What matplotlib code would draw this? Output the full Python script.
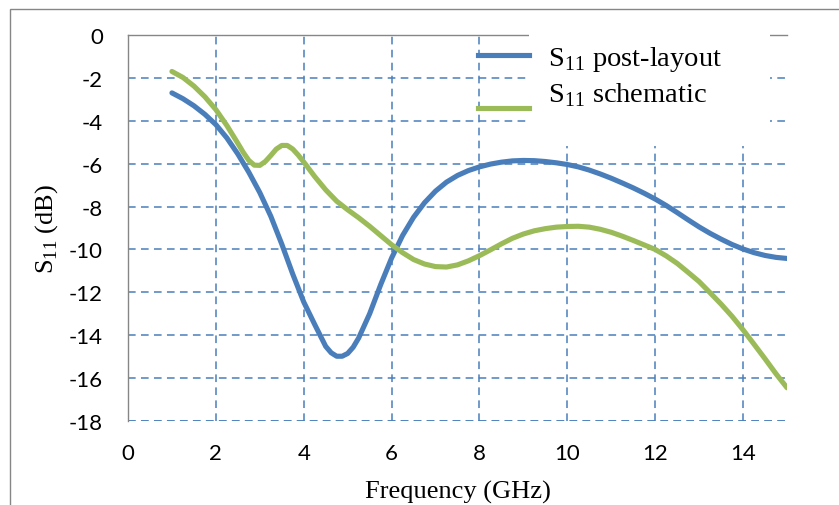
import matplotlib
matplotlib.use('Agg')
import matplotlib.pyplot as plt
from matplotlib.patches import Rectangle
from matplotlib.lines import Line2D

plt.rcParams['mathtext.fontset'] = 'custom'
plt.rcParams['mathtext.rm'] = 'Liberation Serif'
plt.rcParams['axes.unicode_minus'] = False

# S11 post-layout: frequency (GHz) / dB
freq_post = [1.00, 1.25, 1.50, 1.75, 2.00, 2.25, 2.50, 2.75, 3.00, 3.25, 3.50,
             3.75, 4.00, 4.25, 4.50, 4.625, 4.75, 4.875, 5.00, 5.125, 5.25, 5.50,
             5.75, 6.00, 6.25, 6.50, 6.75, 7.00, 7.25, 7.50, 7.75, 8.00, 8.25,
             8.50, 8.75, 9.00, 9.25, 9.50, 9.75, 10.00, 10.25, 10.50, 10.75,
             11.00, 11.25, 11.50, 11.75, 12.00, 12.25, 12.50, 12.75, 13.00,
             13.25, 13.50, 13.75, 14.00, 14.25, 14.50, 14.75, 15.00]
s11_post = [-2.70, -2.97, -3.30, -3.70, -4.18, -4.80, -5.55, -6.40, -7.35, -8.45,
            -9.75, -11.15, -12.45, -13.50, -14.52, -14.82, -14.98, -14.98, -14.85,
            -14.56, -14.13, -13.00, -11.65, -10.40, -9.35, -8.50, -7.82, -7.28,
            -6.86, -6.55, -6.32, -6.15, -6.02, -5.93, -5.87, -5.85, -5.86, -5.90,
            -5.96, -6.04, -6.15, -6.30, -6.48, -6.68, -6.90, -7.13, -7.38, -7.65,
            -7.95, -8.28, -8.62, -8.95, -9.25, -9.52, -9.77, -9.98, -10.15,
            -10.28, -10.37, -10.42]

# S11 schematic: frequency (GHz) / dB
freq_sch = [1.00, 1.25, 1.50, 1.75, 2.00, 2.25, 2.50, 2.625, 2.75, 2.875, 3.00,
            3.125, 3.25, 3.375, 3.50, 3.625, 3.75, 3.875, 4.00, 4.25, 4.50, 4.75,
            5.00, 5.25, 5.50, 5.75, 6.00, 6.25, 6.50, 6.75, 7.00, 7.25, 7.50,
            7.75, 8.00, 8.25, 8.50, 8.75, 9.00, 9.25, 9.50, 9.75, 10.00, 10.25,
            10.50, 10.75, 11.00, 11.25, 11.50, 11.75, 12.00, 12.25, 12.50, 12.75,
            13.00, 13.25, 13.50, 13.75, 14.00, 14.25, 14.50, 14.75, 15.00]
s11_sch = [-1.70, -1.98, -2.38, -2.88, -3.48, -4.22, -5.05, -5.48, -5.85, -6.07,
           -6.08, -5.90, -5.62, -5.32, -5.15, -5.15, -5.32, -5.60, -5.92, -6.60,
           -7.22, -7.75, -8.15, -8.52, -8.92, -9.35, -9.78, -10.15, -10.47,
           -10.68, -10.80, -10.82, -10.72, -10.53, -10.29, -10.02, -9.74, -9.48,
           -9.28, -9.13, -9.03, -8.96, -8.93, -8.92, -8.96, -9.06, -9.20, -9.38,
           -9.58, -9.79, -10.00, -10.30, -10.65, -11.07, -11.50, -12.02, -12.55,
           -13.12, -13.75, -14.42, -15.10, -15.80, -16.45]

xticks = [0, 2, 4, 6, 8, 10, 12, 14]
yticks = [0, -2, -4, -6, -8, -10, -12, -14, -16, -18]

blue = '#4A7EBB'
green = '#9BBB59'
grey = '#868686'
W, H = 839, 506

fig = plt.figure(figsize=(W / 100, H / 100), dpi=100)
ax = fig.add_axes([128 / W, 1 - 422 / H, 659 / W, 386 / H])

# outer chart frame
fig.patches.append(Rectangle((10 / W, -0.5), 2, 1.5 - 10 / H, transform=fig.transFigure,
                             fill=False, edgecolor=grey, lw=1.0))

ax.plot(freq_post, s11_post, color=blue, lw=3.7, solid_capstyle='round',
        solid_joinstyle='round', zorder=4)
ax.plot(freq_sch, s11_sch, color=green, lw=3.7, solid_capstyle='round',
        solid_joinstyle='round', zorder=4)

ax.set_xlim(0, 15)
ax.set_ylim(-18, 0)
ax.set_xticks(xticks)
ax.set_yticks(yticks)
ax.grid(True, color=blue, lw=1.1, linestyle=(0, (5, 3.5)))
ax.set_axisbelow(True)
for s in ['right', 'bottom']:
    ax.spines[s].set_visible(False)
for s in ['left', 'top']:
    ax.spines[s].set_color(grey)
    ax.spines[s].set_linewidth(1.0)
ax.tick_params(length=0, labelsize=16)
ax.tick_params(axis='y', pad=18)
ax.tick_params(axis='x', pad=16)
for lab in ax.get_xticklabels() + ax.get_yticklabels():
    lab.set_fontfamily('Lato')
# bottom gridline at -18
ax.axhline(-18, color=blue, lw=1.1, linestyle=(0, (5, 3.5)), zorder=1)

ax.set_xlabel('Frequency (GHz)', fontsize=19, family='Liberation Serif')
ax.xaxis.set_label_coords(0.5, (422 - 492) / 386)
ax.xaxis.label.set_va('center')
ax.set_ylabel('S$_{\\mathrm{11}}$ (dB)', fontsize=19, family='Liberation Serif')
ax.yaxis.set_label_coords((47 - 128) / 659, 0.5)
ax.yaxis.label.set_va('center')

# legend area, Excel style
fig.patches.append(Rectangle((529 / W, 1 - 147 / H), 241 / W, 120 / H,
                             transform=fig.transFigure, facecolor='white',
                             edgecolor='none', zorder=3))
fig.lines.append(Line2D([478 / W, 529 / W], [1 - 56 / H, 1 - 56 / H],
                        transform=fig.transFigure, color=blue, lw=3.7, zorder=4))
fig.lines.append(Line2D([478 / W, 529 / W], [1 - 109 / H, 1 - 109 / H],
                        transform=fig.transFigure, color=green, lw=3.7, zorder=4))
fig.text(548 / W, 1 - 60 / H, 'S$_{\\mathrm{11}}$ post-layout', fontsize=20.5,
         family='Liberation Serif', va='center', zorder=5)
fig.text(548 / W, 1 - 95 / H, 'S$_{\\mathrm{11}}$ schematic', fontsize=20.5,
         family='Liberation Serif', va='center', zorder=5)

fig.savefig('out.png', dpi=100)
